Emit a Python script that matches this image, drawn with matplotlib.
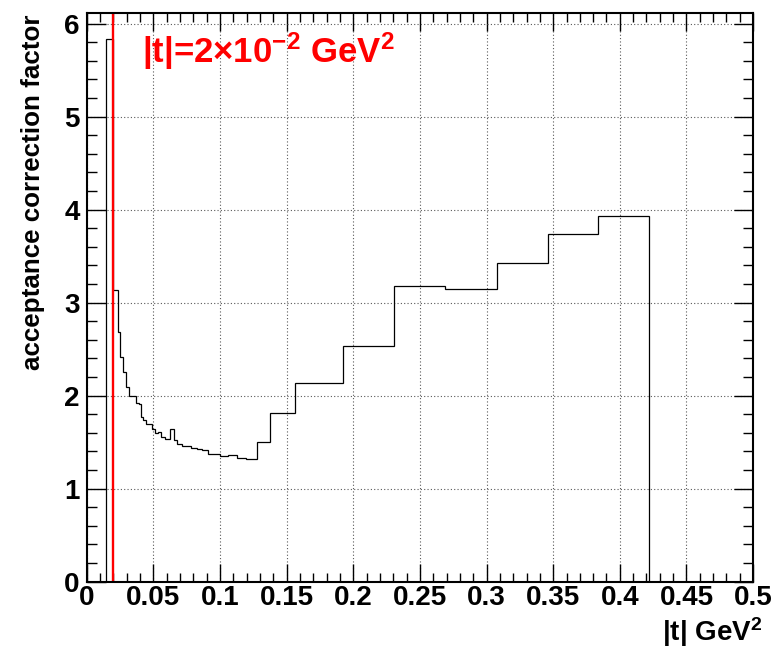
import numpy as np
import matplotlib.pyplot as plt
from matplotlib.ticker import MultipleLocator

plt.rcParams['font.family'] = ['Liberation Sans', 'DejaVu Sans']
plt.rcParams['font.weight'] = 'bold'
plt.rcParams['mathtext.fontset'] = 'custom'
plt.rcParams['mathtext.rm'] = 'Liberation Sans:bold'
plt.rcParams['mathtext.bf'] = 'Liberation Sans:bold'
plt.rcParams['mathtext.it'] = 'Liberation Sans:bold'
plt.rcParams['mathtext.sf'] = 'Liberation Sans'
plt.rcParams['mathtext.default'] = 'rm'

# variable |t| binning (GeV^2)
t_edges = [0.0145, 0.020, 0.0235, 0.0252, 0.0275, 0.0297, 0.032, 0.0347,
           0.037, 0.0392, 0.0407, 0.0422, 0.0445, 0.049, 0.0512, 0.0535,
           0.0557, 0.0587, 0.0625, 0.0655, 0.0677, 0.0715, 0.0782, 0.0827,
           0.0865, 0.091, 0.100, 0.106, 0.1125, 0.1195, 0.1275, 0.1379,
           0.1562, 0.1925, 0.2307, 0.269, 0.3075, 0.3458, 0.384, 0.422]

# acceptance correction factor per bin
correction = [5.83, 3.14, 2.684, 2.412, 2.255, 2.095, 2.00, 1.99, 1.92,
              1.905, 1.77, 1.74, 1.695, 1.635, 1.598, 1.61, 1.558, 1.53,
              1.645, 1.527, 1.484, 1.462, 1.441, 1.43, 1.419, 1.376, 1.355,
              1.366, 1.333, 1.323, 1.505, 1.813, 2.14, 2.538, 3.178, 3.15,
              3.426, 3.734, 3.928]

t_cut = 0.02

fig = plt.figure(figsize=(7.74, 6.49), dpi=100)
ax = fig.add_axes([0.112, 0.104, 0.861, 0.876])

ax.stairs(correction, t_edges, baseline=0, color='black', lw=0.9)
ax.axvline(t_cut, color='red', lw=1.7)

ax.text(0.0415, 5.58, r'|t|=2$\mathsf{\times}$10$^{-2}$ GeV$^{2}$',
        color='red', fontsize=25, fontweight='bold', ha='left',
        va='baseline')

ax.set_xlim(0, 0.5)
ax.set_ylim(0, 6.115)
ax.xaxis.set_minor_locator(MultipleLocator(0.01))
ax.yaxis.set_major_locator(MultipleLocator(1))
ax.yaxis.set_minor_locator(MultipleLocator(0.2))
ax.set_xticks(np.arange(0, 0.501, 0.05))
ax.set_xticklabels(['0', '0.05', '0.1', '0.15', '0.2', '0.25', '0.3',
                    '0.35', '0.4', '0.45', '0.5'])

ax.tick_params(which='both', direction='in', top=True, right=True,
               labelsize=20, width=1)
ax.tick_params(axis='x', which='major', length=13, pad=2.5)
ax.tick_params(axis='x', which='minor', length=6.5)
ax.tick_params(axis='y', which='major', length=14, pad=5)
ax.tick_params(axis='y', which='minor', length=7)
for lab in ax.get_xticklabels() + ax.get_yticklabels():
    lab.set_fontweight('bold')

ax.grid(True, which='major', color='0.35', lw=0.8, linestyle=(0, (1, 2)))
ax.set_axisbelow(True)
for spine in ax.spines.values():
    spine.set_linewidth(1.5)

fig.text(0.043, 0.978, 'acceptance correction factor', rotation=90,
         fontsize=18.7, fontweight='bold', ha='center', va='top')
fig.text(0.9845, 0.012, r'|t| GeV$^{2}$', fontsize=20, fontweight='bold',
         ha='right', va='baseline')

fig.savefig('out.png', dpi=100)
